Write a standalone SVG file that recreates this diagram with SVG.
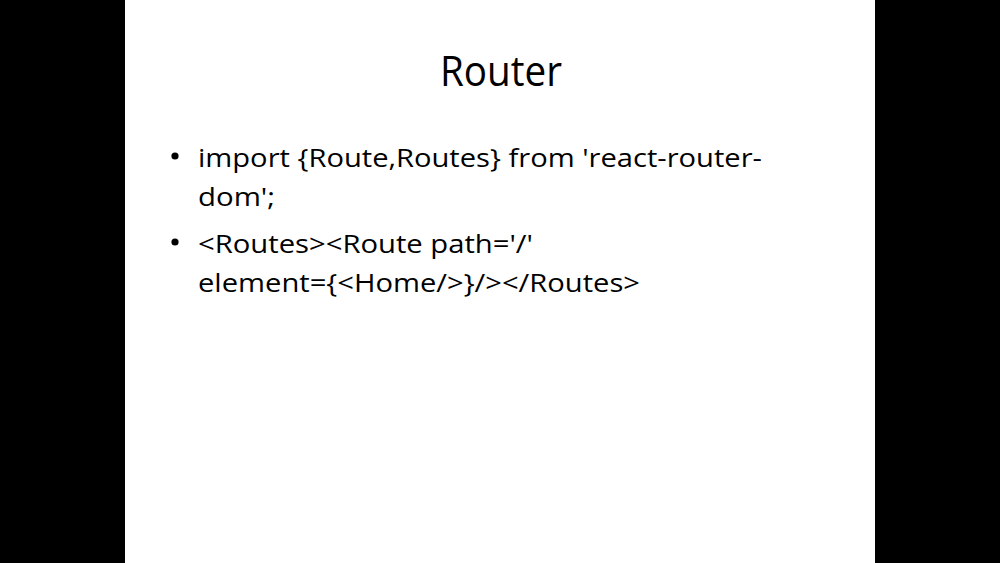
<svg xmlns="http://www.w3.org/2000/svg" width="1000" height="563" viewBox="0 0 1000 563">
<style>
.t{font-family:"Open Sans","Liberation Sans",sans-serif;fill:#000}
.b{font-size:25px}
</style>
<rect x="0" y="0" width="1000" height="563" fill="#000"/>
<rect x="125" y="0" width="750" height="563" fill="#fff"/>
<g id="title">
<text class="t" x="440" y="86" font-size="42" textLength="122" lengthAdjust="spacingAndGlyphs">Router</text>
</g>
<g id="bullet1">
<circle cx="175" cy="156" r="3.6" fill="#000"/>
<text class="t b" x="198" y="167" textLength="564" lengthAdjust="spacingAndGlyphs">import {Route,Routes} from 'react-router-</text>
<text class="t b" x="198" y="206" textLength="77" lengthAdjust="spacingAndGlyphs">dom';</text>
</g>
<g id="bullet2">
<circle cx="175" cy="242" r="3.6" fill="#000"/>
<text class="t b" x="198" y="253" textLength="335" lengthAdjust="spacingAndGlyphs">&lt;Routes&gt;&lt;Route path='/'</text>
<text class="t b" x="198" y="292" textLength="442" lengthAdjust="spacingAndGlyphs">element={&lt;Home/&gt;}/&gt;&lt;/Routes&gt;</text>
</g>
</svg>
